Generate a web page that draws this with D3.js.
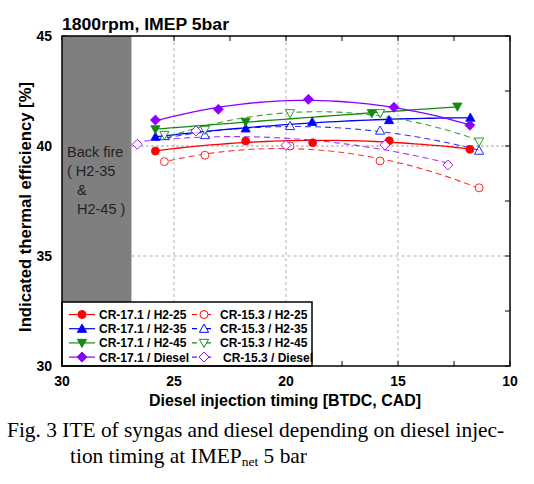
<!DOCTYPE html>
<html><head><meta charset="utf-8">
<script src="https://cdn.jsdelivr.net/npm/d3@7"></script>
<style>
body{margin:0;background:#fff;}
svg{display:block;font-family:"Liberation Sans",Arial,sans-serif;}
</style></head>
<body><svg id="c" width="534" height="484"></svg>
<script>
// ---- data ----
const xTicks = [30, 25, 20, 15, 10];
const yTicks = [30, 35, 40, 45];
const backfireLimit = 26.9;

const cr171_h225_x = [25.83, 21.8, 18.81, 15.39, 11.79];
const cr171_h225_y = [39.77, 40.23, 40.15, 40.24, 39.85];
const cr171_h235_x = [25.83, 21.8, 18.83, 15.4, 11.77];
const cr171_h235_y = [40.42, 40.80, 41.10, 41.18, 41.29];
const cr171_h245_x = [25.83, 21.8, 16.17, 12.35];
const cr171_h245_y = [40.76, 41.10, 41.49, 41.79];
const cr171_diesel_x = [25.83, 23.02, 19.0, 15.18, 11.79];
const cr171_diesel_y = [41.18, 41.67, 42.12, 41.76, 40.94];
const cr153_h225_x = [25.43, 23.62, 19.82, 15.8, 11.38];
const cr153_h225_y = [39.29, 39.58, 40.0, 39.32, 38.1];
const cr153_h235_x = [25.43, 23.62, 19.82, 15.8, 11.38];
const cr153_h235_y = [40.45, 40.5, 40.91, 40.7, 39.79];
const cr153_h245_x = [25.43, 23.62, 19.82, 15.8, 11.38];
const cr153_h245_y = [40.5, 40.73, 41.49, 41.49, 40.2];
const cr153_diesel_x = [26.64, 24.02, 20.0, 15.58, 12.77];
const cr153_diesel_y = [40.08, 40.68, 40.03, 40.05, 39.14];

const seriesNames = ["CR-17.1 / H2-25","CR-17.1 / H2-35","CR-17.1 / H2-45","CR-17.1 / Diesel",
                     "CR-15.3 / H2-25","CR-15.3 / H2-35","CR-15.3 / H2-45","CR-15.3 / Diesel"];
const seriesX = [cr171_h225_x, cr171_h235_x, cr171_h245_x, cr171_diesel_x, cr153_h225_x, cr153_h235_x, cr153_h245_x, cr153_diesel_x];
const seriesY = [cr171_h225_y, cr171_h235_y, cr171_h245_y, cr171_diesel_y, cr153_h225_y, cr153_h235_y, cr153_h245_y, cr153_diesel_y];

// ---- styles ----
const colors = ["#ff0000","#0000ff","#138a13","#8a00ff","#ff0000","#0000ff","#138a13","#8a00ff"];
const shapes = ["circle","up","down","diamond","circle","up","down","diamond"];
const filled = [true,true,true,true,false,false,false,false];

const svg = d3.select("#c");
const L = 62, R = 510, T = 36, B = 366;
const x = d3.scaleLinear().domain([30, 10]).range([L, R]);
const y = d3.scaleLinear().domain([30, 45]).range([B, T]);

function markerPath(shape) {
  if (shape === "circle") return d3.symbol(d3.symbolCircle, 50)();
  if (shape === "up") return "M0,-4.6L4.6,3.6L-4.6,3.6Z";
  if (shape === "down") return "M0,4.6L4.6,-3.6L-4.6,-3.6Z";
  return "M0,-5L5,0L0,5L-5,0Z";
}

// gridlines
[25, 20, 15].forEach(v => svg.append("line").attr("x1", x(v)).attr("x2", x(v)).attr("y1", T).attr("y2", B)
  .attr("stroke", "#b0b0b0").attr("stroke-width", 1).attr("stroke-dasharray", "3,3"));
svg.append("line").attr("x1", x(backfireLimit)).attr("x2", R).attr("y1", y(35)).attr("y2", y(35))
  .attr("stroke", "#b0b0b0").attr("stroke-width", 1).attr("stroke-dasharray", "3,3");
svg.append("line").attr("x1", x(backfireLimit)).attr("x2", R).attr("y1", y(40)).attr("y2", y(40))
  .attr("stroke", "#c0c0c0").attr("stroke-width", 2).attr("stroke-dasharray", "2,3");

// ticks (inward)
const minorX = d3.range(10, 30.01, 2.5), minorY = d3.range(30, 45.01, 2.5);
minorX.forEach(v => {
  svg.append("line").attr("x1", x(v)).attr("x2", x(v)).attr("y1", T).attr("y2", T + 5).attr("stroke", "#000");
  svg.append("line").attr("x1", x(v)).attr("x2", x(v)).attr("y1", B).attr("y2", B - 5).attr("stroke", "#000");
});
minorY.forEach(v => {
  svg.append("line").attr("x1", R).attr("x2", R - 5).attr("y1", y(v)).attr("y2", y(v)).attr("stroke", "#000");
  svg.append("line").attr("x1", L).attr("x2", L + 5).attr("y1", y(v)).attr("y2", y(v)).attr("stroke", "#000");
});

// backfire region
svg.append("rect").attr("x", x(30)).attr("y", y(45))
  .attr("width", x(backfireLimit) - x(30)).attr("height", y(30) - y(45))
  .attr("fill", "#7f7f7f");
[["Back fire", 67, 157], ["( H2-35", 67, 176], ["&", 77, 195], ["H2-45 )", 77, 214]].forEach(d =>
  svg.append("text").attr("x", d[1]).attr("y", d[2]).attr("font-size", 14.5).attr("fill", "#222").text(d[0]));

// quadratic least squares fit
function polyfit2(xs, ys) {
  const n = xs.length;
  let S = [0,0,0,0,0], Ty = [0,0,0];
  for (let i = 0; i < n; i++) {
    let p = 1;
    for (let k = 0; k < 5; k++) { S[k] += p; p *= xs[i]; }
    Ty[0] += ys[i]; Ty[1] += ys[i]*xs[i]; Ty[2] += ys[i]*xs[i]*xs[i];
  }
  const A = [[S[0],S[1],S[2],Ty[0]],[S[1],S[2],S[3],Ty[1]],[S[2],S[3],S[4],Ty[2]]];
  for (let i = 0; i < 3; i++) {
    for (let j = i+1; j < 3; j++) {
      const f = A[j][i]/A[i][i];
      for (let k = i; k < 4; k++) A[j][k] -= f*A[i][k];
    }
  }
  const c = [0,0,0];
  for (let i = 2; i >= 0; i--) {
    let s = A[i][3];
    for (let k = i+1; k < 3; k++) s -= A[i][k]*c[k];
    c[i] = s/A[i][i];
  }
  return t => c[0] + c[1]*t + c[2]*t*t;
}

const line = d3.line().x(d => x(d[0])).y(d => y(d[1]));
seriesX.forEach((xs, i) => {
  const f = polyfit2(xs, seriesY[i]);
  const [a, b] = d3.extent(xs);
  const pts = d3.range(0, 41).map(k => { const t = a + (b - a) * k / 40; return [t, f(t)]; });
  svg.append("path").attr("d", line(pts)).attr("fill", "none")
    .attr("stroke", colors[i]).attr("stroke-width", filled[i] ? 1.3 : 1.1)
    .attr("stroke-dasharray", filled[i] ? null : "6,4").attr("opacity", filled[i] ? 1 : 0.8);
});
seriesX.forEach((xs, i) => {
  xs.forEach((v, j) => {
    svg.append("path").attr("d", markerPath(shapes[i]))
      .attr("transform", `translate(${x(v)},${y(seriesY[i][j])})`)
      .attr("fill", filled[i] ? colors[i] : "#fff")
      .attr("stroke", colors[i]).attr("stroke-width", filled[i] ? 0.8 : 1)
      .attr("opacity", filled[i] ? 1 : 0.85);
  });
});

// legend
const lg = svg.append("g");
lg.append("rect").attr("x", L).attr("y", 302).attr("width", 250).attr("height", B - 302)
  .attr("fill", "#fff").attr("stroke", "#000").attr("stroke-width", 1.5);
seriesNames.forEach((name, i) => {
  const col = i < 4 ? 0 : 1, row = i % 4;
  const cy = 314.5 + row * 14.2;
  const x0 = col === 0 ? 69 : 191, x1 = col === 0 ? 95 : 217, mx = (x0 + x1) / 2;
  lg.append("line").attr("x1", x0).attr("x2", x1).attr("y1", cy).attr("y2", cy)
    .attr("stroke", colors[i]).attr("stroke-width", 1.2)
    .attr("stroke-dasharray", filled[i] ? null : "5,9").attr("stroke-dashoffset", filled[i] ? 0 : -1);
  lg.append("path").attr("d", markerPath(shapes[i])).attr("transform", `translate(${mx},${cy})`)
    .attr("fill", filled[i] ? colors[i] : "#fff").attr("stroke", colors[i]).attr("stroke-width", 1);
  lg.append("text").attr("x", col === 0 ? 99 : (i === 7 ? 223 : 220)).attr("y", cy + 4.5)
    .attr("font-size", 12).attr("font-weight", "bold").text(name);
});

// frame
svg.append("rect").attr("x", L).attr("y", T).attr("width", R - L).attr("height", B - T)
  .attr("fill", "none").attr("stroke", "#000").attr("stroke-width", 1.5);

// tick labels
xTicks.forEach(v => svg.append("text").attr("x", x(v)).attr("y", 386).attr("text-anchor", "middle")
  .attr("font-size", 14).attr("font-weight", "bold").text(v));
yTicks.forEach(v => svg.append("text").attr("x", 52).attr("y", y(v) + 5).attr("text-anchor", "end")
  .attr("font-size", 14).attr("font-weight", "bold").text(v));

// titles
svg.append("text").attr("x", 62).attr("y", 29.5).attr("font-size", 16).attr("font-weight", "bold")
  .attr("textLength", 167).attr("lengthAdjust", "spacingAndGlyphs").text("1800rpm, IMEP 5bar");
svg.append("text").attr("x", 285).attr("y", 406).attr("text-anchor", "middle").attr("font-size", 16).attr("font-weight", "bold")
  .attr("textLength", 272).attr("lengthAdjust", "spacingAndGlyphs")
  .text("Diesel injection timing [BTDC, CAD]");
svg.append("text").attr("transform", `translate(31,207) rotate(-90)`).attr("text-anchor", "middle")
  .attr("font-size", 16).attr("font-weight", "bold")
  .attr("textLength", 250).attr("lengthAdjust", "spacingAndGlyphs")
  .text("Indicated thermal efficiency [%]");

// caption
const cap = svg.append("g").attr("font-family", "'Liberation Serif','Times New Roman',serif").attr("font-size", 21.4);
cap.append("text").attr("x", 7).attr("y", 437).text("Fig. 3 ITE of syngas and diesel depending on diesel injec-");
const l2 = cap.append("text").attr("x", 70).attr("y", 463);
l2.append("tspan").text("tion timing at IMEP");
l2.append("tspan").attr("font-size", 13.5).attr("dy", 3).text("net");
l2.append("tspan").attr("dy", -3).text(" 5 bar");
</script></body></html>
